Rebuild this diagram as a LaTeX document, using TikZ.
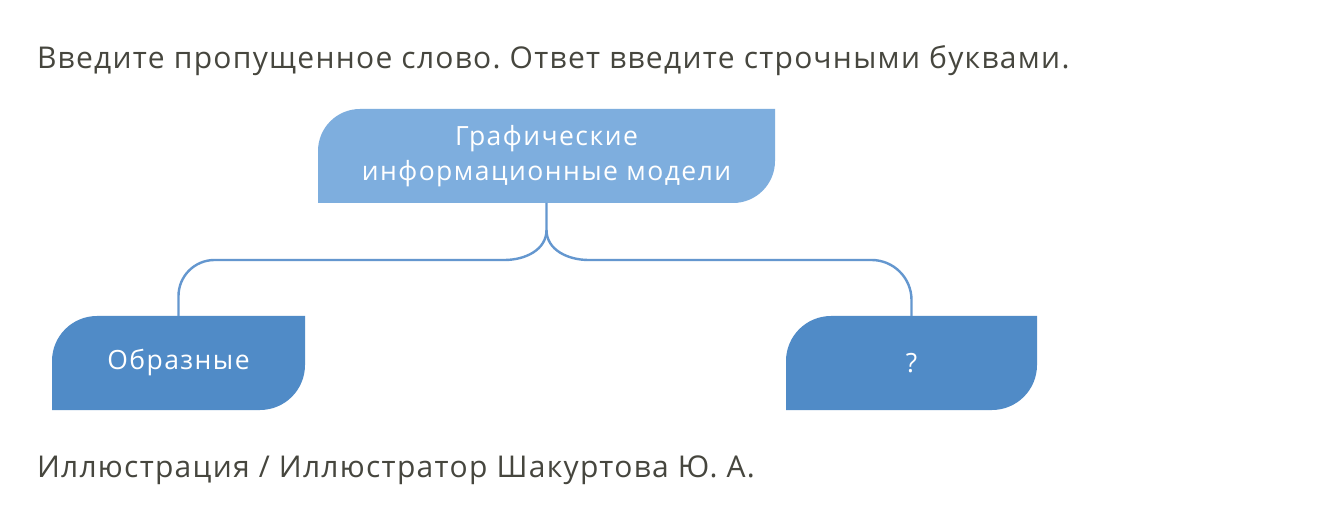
\documentclass[tikz,border=0pt]{standalone}
\usepackage{fontspec}
\setmainfont{Open Sans}
\newfontfamily\spacedfont[LetterSpace=5.5]{Open Sans}
\newfontfamily\titlefont[LetterSpace=4.3]{Open Sans}
\frenchspacing
\usetikzlibrary{backgrounds}
\definecolor{topblue}{HTML}{7EAEDE}
\definecolor{leafblue}{HTML}{508BC7}
\definecolor{linkblue}{HTML}{6497CF}
\definecolor{txtgray}{HTML}{46463E}
\newcommand\leafbox[3]{%
  \fill[#2] (#1.south west) -- ([yshift=-#3]#1.north west)
    arc[start angle=180,end angle=90,radius=#3] -- (#1.north east)
    -- ([yshift=#3]#1.south east)
    arc[start angle=0,end angle=-90,radius=#3] -- cycle;}
\begin{document}
\begin{tikzpicture}[x=1pt,y=1pt,
  boxtext/.style={inner sep=0pt,outer sep=0pt,minimum height=94pt,
    text=white,font=\spacedfont\fontsize{26.5}{35}\selectfont,align=center},
  plain/.style={inner sep=0pt,outer sep=0pt,anchor=base west,text=txtgray,
    font=\titlefont\fontsize{30}{35}\selectfont},
  link/.style={draw=linkblue,line width=2.4pt}]
\useasboundingbox (0,0) rectangle (1324,514);
\node[plain] (title) at (37,445) {Введите пропущенное слово. Ответ введите строчными буквами.};
\node[plain] (caption) at (37,37) {Иллюстрация / Иллюстратор Шакуртова Ю. А.};
\node[boxtext,minimum width=457pt] (top) at (546.5,358) {Графические\\информационные модели};
\node[boxtext,minimum width=253pt] (left) at (178.5,151) {Образные};
\node[boxtext,minimum width=251pt] (right) at (911.5,151) {?};
\begin{scope}[on background layer]
  \fill[white] (0,0) rectangle (1324,514);
  \leafbox{top}{topblue}{42pt}
  \leafbox{left}{leafblue}{45pt}
  \leafbox{right}{leafblue}{45pt}
\end{scope}
\coordinate (split) at ([yshift=-27pt]top.south);
\draw[link] (top.south) -- (split)
  to[out=-90,in=0] ([xshift=-42pt,yshift=-30pt]split)
  -- ([xshift=36pt,yshift=56pt]left.north)
  arc[start angle=90,end angle=180,radius=36pt] -- (left.north);
\draw[link] (split)
  to[out=-90,in=180] ([xshift=42pt,yshift=-30pt]split)
  -- ([xshift=-40pt,yshift=56pt]right.north)
  arc[start angle=90,end angle=0,radius=40pt] -- (right.north);
\end{tikzpicture}
\end{document}
